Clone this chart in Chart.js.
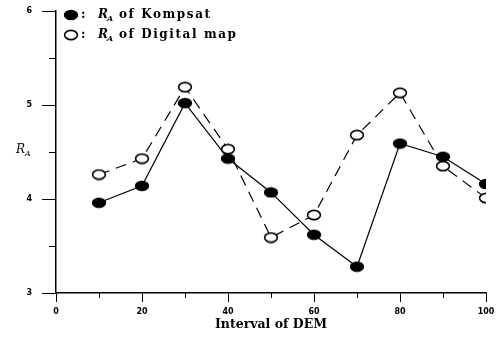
<!DOCTYPE html>
<html><head><meta charset="utf-8">
<script src="https://cdn.jsdelivr.net/npm/chart.js@4.4.1/dist/chart.umd.min.js"></script>
<style>html,body{margin:0;padding:0;background:#fff}#wrap{width:497px;height:338px}</style>
</head><body><div id="wrap"><canvas id="c" width="497" height="338"></canvas></div>
<script>
const intervals = [10, 20, 30, 40, 50, 60, 70, 80, 90, 100];
const kompsat = [3.96, 4.14, 5.02, 4.43, 4.07, 3.62, 3.28, 4.59, 4.45, 4.16];
const digitalMap = [4.26, 4.43, 5.19, 4.53, 3.59, 3.83, 4.68, 5.13, 4.35, 4.01];
const xTicks = [0, 20, 40, 60, 80, 100];
const yTicks = [3, 4, 5, 6];
const seriesNames = ['of Kompsat', 'of Digital map'];

function ellipse(filled) {
  const c = document.createElement('canvas');
  c.width = 16; c.height = 12;
  const g = c.getContext('2d');
  g.beginPath();
  if (filled) {
    g.ellipse(8, 6, 7.2, 5.2, 0, 0, Math.PI * 2);
    g.fillStyle = '#000'; g.fill();
  } else {
    g.ellipse(8, 6, 6.4, 4.6, 0, 0, Math.PI * 2);
    g.fillStyle = '#fff'; g.fill();
    g.lineWidth = 1.6; g.strokeStyle = '#000'; g.stroke();
  }
  return c;
}
const filledPt = ellipse(true), openPt = ellipse(false);

const overlay = {
  id: 'overlay',
  afterDraw(chart) {
    const ctx = chart.ctx;
    const xs = chart.scales.x, ys = chart.scales.y;
    ctx.save();
    ctx.strokeStyle = '#000'; ctx.lineWidth = 1;
    for (let v = 3.5; v < 6; v += 1) {
      const y = Math.round(ys.getPixelForValue(v)) + 0.5;
      ctx.beginPath(); ctx.moveTo(xs.left - 7, y); ctx.lineTo(xs.left, y); ctx.stroke();
    }
    for (let v = 10; v < 100; v += 20) {
      const x = Math.round(xs.getPixelForValue(v)) + 0.5;
      ctx.beginPath(); ctx.moveTo(x, ys.bottom - 1); ctx.lineTo(x, ys.bottom + 5); ctx.stroke();
    }
    ctx.fillStyle = '#000';
    ctx.textBaseline = 'middle';
    ctx.textAlign = 'left';
    ctx.font = 'italic 12px "DejaVu Serif"';
    ctx.fillText('R', 16, 150);
    ctx.font = 'italic 8px "DejaVu Serif"';
    ctx.fillText('A', 25, 154);
    const rows = [[filledPt, 15], [openPt, 35]];
    rows.forEach((r, i) => {
      ctx.drawImage(r[0], 63, r[1] - 6);
      ctx.font = 'bold 12px "DejaVu Serif"';
      ctx.fillText(':', 81, r[1]);
      ctx.font = 'italic bold 12px "DejaVu Serif"';
      ctx.fillText('R', 98, r[1]);
      ctx.font = 'italic bold 8px "DejaVu Serif"';
      ctx.fillText('A', 107, r[1] + 4);
      ctx.font = 'bold 12px "DejaVu Serif"';
      ctx.letterSpacing = '1.6px';
      ctx.fillText(seriesNames[i], 119, r[1]);
      ctx.letterSpacing = '0px';
    });
    ctx.restore();
  }
};

new Chart(document.getElementById('c'), {
  type: 'line',
  data: {
    datasets: [
      {
        label: 'Kompsat',
        data: intervals.map((x, i) => ({x, y: kompsat[i]})),
        borderColor: '#000', borderWidth: 1.2,
        pointStyle: filledPt, pointRadius: 6,
        tension: 0, fill: false
      },
      {
        label: 'Digital map',
        data: intervals.map((x, i) => ({x, y: digitalMap[i]})),
        borderColor: '#000', borderWidth: 1.2, borderDash: [11, 7],
        pointStyle: openPt, pointRadius: 6,
        tension: 0, fill: false
      }
    ]
  },
  options: {
    responsive: false, animation: false, devicePixelRatio: 1,
    layout: {padding: {left: 0, right: 11, top: 11, bottom: 0}},
    plugins: {legend: {display: false}, tooltip: {enabled: false}},
    scales: {
      x: {
        type: 'linear', min: 0, max: 100,
        afterFit(s) { s.height = 45; s.paddingLeft = 0; s.paddingRight = 0; },
        afterBuildTicks(s) { s.ticks = xTicks.map(v => ({value: v})); },
        grid: {drawOnChartArea: false, tickLength: 9, color: '#000', tickWidth: 1},
        border: {display: true, color: '#000', width: 1.5},
        ticks: {padding: 5, color: '#000', font: {family: 'DejaVu Sans', size: 8, weight: 'bold'}, maxRotation: 0},
        title: {display: true, text: 'Interval of DEM', color: '#000', padding: {top: 0, bottom: 6},
          font: {family: 'DejaVu Serif', size: 12.5, weight: 'bold'}}
      },
      y: {
        type: 'linear', min: 3, max: 6,
        afterFit(s) { s.width = 56; s.paddingTop = 0; s.paddingBottom = 0; },
        afterBuildTicks(s) { s.ticks = yTicks.map(v => ({value: v})); },
        grid: {drawOnChartArea: false, tickLength: 14, color: '#000', tickWidth: 1},
        border: {display: true, color: '#000', width: 1.5},
        ticks: {padding: 10, color: '#000', font: {family: 'DejaVu Sans', size: 8, weight: 'bold'}}
      }
    }
  },
  plugins: [overlay]
});
</script></body></html>
